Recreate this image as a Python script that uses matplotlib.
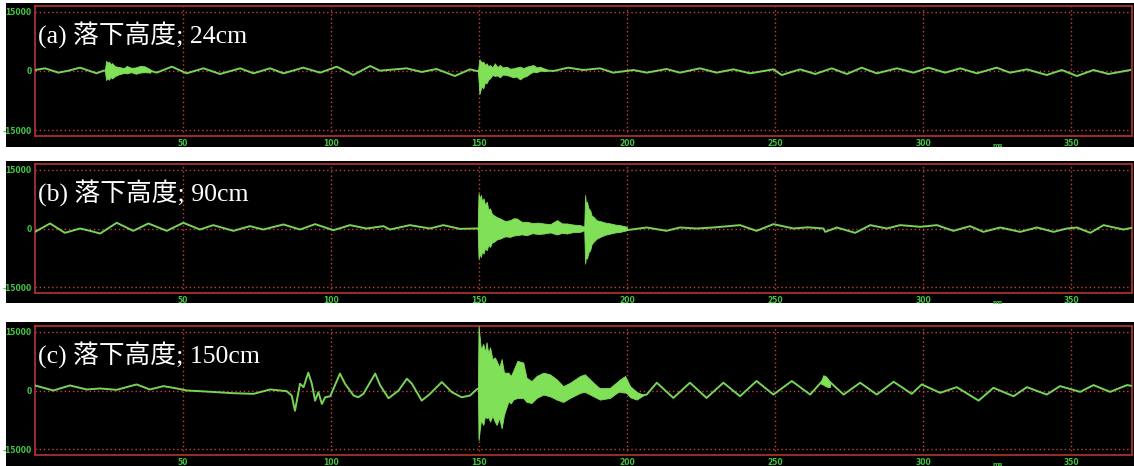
import matplotlib
matplotlib.use("Agg")
import matplotlib.pyplot as plt
from matplotlib.patches import Rectangle

# ---------------- data (time in ms, amplitude) ----------------
labels = ["(a) 落下高度; 24cm", "(b) 落下高度; 90cm", "(c) 落下高度; 150cm"]
x_ticks = [50, 100, 150, 200, 250, 300, 350]
y_ticks = [15000, 0, -15000]
y_ticklabels = ["15000", "0", "-15000"]

# panel (a) baseline trace
a_t = [0.0, 3.4, 7.9, 11.3, 15.2, 20.8, 23.1, 31.0, 36.6, 41.1, 46.2, 51.2, 56.9,
       62.5, 69.3, 73.8, 79.4, 83.9, 90.6, 96.3, 101.9, 107.5, 113.2, 116.5, 125.5,
       130.6, 135.6, 141.8, 146.9, 149.2, 155.0, 162.0, 168.0, 175.1, 180.1, 185.2,
       190.8, 195.3, 202.1, 206.6, 213.3, 217.8, 224.6, 230.2, 235.9, 241.5, 249.4,
       252.2, 258.4, 263.5, 269.1, 274.2, 279.2, 284.3, 291.1, 296.7, 301.8, 307.4,
       312.5, 318.1, 324.8, 329.3, 335.0, 341.7, 346.8, 351.9, 357.5, 362.6, 369.9]
a_v = [250, 680, -420, 80, 850, -590, 80, 300, 600, -420, 1100, -590, 680,
       -760, 680, -590, 680, -590, 850, -420, 1100, -1000, 1270, 80, 680,
       -250, 510, -1270, 420, 0, -200, -300, 400, 0, 850, 250,
       680, -420, 250, -420, 510, -420, 680, -420, 420, -590, 420,
       -1020, 420, -760, 680, -760, 850, -590, 680, -420, 850, -420,
       680, -590, 850, -420, 420, -1020, 250, -1270, 250, -760, 250]
# panel (a) impact bursts (envelope)
a_b1_t = [23.6, 24.0, 24.5, 25.0, 25.5, 26.0, 27.0, 28.5, 30.0, 31.0, 32.5, 34.0, 35.5, 37.0, 39.0]
a_b1_hi = [80, 2600, 2100, 2400, 1700, 2000, 1200, 1000, 700, 1300, 800, 900, 1300, 1200, 400]
a_b1_lo = [80, -2300, -1800, -2200, -1500, -1900, -1300, -800, -500, -600, -300, -700, -400, -300, -400]
a_b2_t = [149.6, 150.1, 150.8, 151.4, 152.0, 152.5, 153.1, 153.7, 154.5, 155.3, 156.2,
          157.0, 158.0, 159.3, 160.4, 161.5, 162.6, 163.8, 165.0, 166.0, 167.2, 168.3,
          169.5, 170.5, 172.8]
a_b2_hi = [0, 2960, 2200, 2370, 1500, 1950, 1200, 1520, 900, 1950, 1000, 1520, 900,
           1100, 600, 680, 900, 1100, 700, 1100, 1300, 1520, 900, 1100, 400]
a_b2_lo = [0, -5840, -3900, -4400, -2800, -3130, -2200, -1860, -1000, -1270, -1100,
           -1610, -900, -1020, -1300, -1610, -1400, -2120, -1500, -1270, -600, -170,
           -300, 80, 0]

# panel (b) baseline trace
b_t = [0.0, 5.1, 10.1, 15.2, 18.6, 22.0, 27.6, 33.2, 38.3, 44.5, 50.1, 55.7, 60.2,
       67.0, 72.6, 77.1, 83.9, 89.5, 94.6, 100.8, 106.4, 112.0, 117.7, 119.9, 126.6,
       133.4, 137.9, 143.5, 148.6, 149.5, 170.0, 185.4, 199.8, 206.6, 213.3, 217.8,
       223.5, 229.1, 238.1, 243.7, 249.4, 256.2, 261.0, 266.3, 266.9, 270.8, 277.0,
       282.1, 287.7, 292.2, 299.0, 304.6, 310.2, 315.8, 320.3, 326.0, 332.7, 338.4,
       344.0, 348.5, 351.9, 356.4, 360.9, 367.6, 371.0]
b_v = [-860, 1290, -1110, 0, -600, -1290, 1460, -600, 1290, -600, 1460, -260, 860,
       -600, 600, -260, 1030, -260, 1110, -430, 860, 0, 600, -260, 860,
       0, 860, -90, 0, 0, 0, 0, -430, 260, -600, 260,
       0, 260, 860, -600, 1110, 0, 300, 0, -860, 260, -1110,
       860, 0, 860, 430, 860, -600, 600, -860, 260, -860, 260,
       -860, 0, 260, -1110, 860, -260, 260]
b_b_t = [149.5, 149.8, 150.2, 150.6, 151.0, 151.5, 152.0, 152.6, 153.1, 153.7, 154.3,
         154.9, 156.0, 157.1, 158.8, 160.5, 161.6, 162.7, 164.4, 166.1, 168.0, 169.9,
         171.8, 174.0, 176.3, 178.0, 179.6, 181.8, 184.1, 185.5, 185.8, 186.1, 186.4,
         187.0, 187.5, 188.0, 188.6, 189.7, 190.9, 192.6, 194.3, 196.0, 197.6, 199.9]
b_b_hi = [0, 9000, 7600, 8570, 6900, 7710, 6000, 6860, 4800, 5140, 3800,
          3430, 2900, 2570, 1900, 2140, 2600, 2570, 1700, 1710, 1400, 1500,
          1290, 1100, 2140, 1300, 1290, 1000, 860, 430, 8570, 6000, 6860,
          5000, 4710, 3300, 3000, 2100, 1890, 1500, 1290, 1000, 860, 430]
b_b_lo = [0, -7710, -6500, -7280, -5800, -6430, -5000, -5570, -4200, -4710, -3600,
          -3430, -2800, -2570, -2000, -2140, -1800, -1710, -1500, -1710, -1200, -1400,
          -1290, -1000, -1540, -1100, -1290, -900, -860, -430, -9000, -7000, -7710,
          -6000, -5570, -4000, -3430, -2600, -2140, -1600, -1290, -1000, -860, -430]

# panel (c) baseline trace
c_t = [0.0, 6.2, 11.8, 17.5, 22.0, 27.6, 34.3, 38.8, 43.4, 47.9, 51.2, 55.7, 67.0,
       73.8, 79.4, 85.0, 86.7, 87.8, 89.5, 90.7, 92.3, 93.5, 94.6, 95.7, 96.9, 98.0,
       99.7, 103.0, 104.7, 107.6, 109.2, 110.9, 114.9, 116.6, 119.4, 122.8, 125.6,
       127.3, 130.6, 133.4, 137.4, 140.8, 144.1, 146.9, 149.4, 160.0, 175.0, 190.0,
       205.5, 206.6, 210.0, 215.6, 221.2, 226.8, 232.5, 238.1, 243.7, 249.4, 255.6,
       261.8, 266.9, 273.1, 278.7, 284.3, 290.0, 296.1, 299.5, 305.7, 311.3, 318.7,
       323.7, 330.5, 335.0, 341.7, 346.2, 353.0, 357.5, 363.1, 368.8, 371.0]
c_v = [1290, 0, 1290, 260, 520, 170, 1550, 260, 1120, 520, 0, -170, -690,
       -860, 260, -170, -1290, -5180, 1730, 860, 4570, 1730, -2590, -430, -3450, -1730,
       -1470, 4320, 1730, -1290, -1730, -860, 4320, 1290, -1990, 0, 3020,
       1730, -2590, -860, 2160, -430, -1730, -1290, 430, 1000, 800, 500,
       -1200, -1040, 1990, -1900, 1990, -1900, 1990, -1470, 2420, -1040, 2420,
       -1040, 3280, -1040, 1990, -1040, 2240, -860, 1550, -600, 860, -2590,
       690, -1470, 860, -1040, 1120, -350, 1380, -350, 1380, 1120]
c_b1_t = [149.6, 149.8, 150.6, 151.4, 152.0, 152.5, 153.1, 153.7, 154.5, 155.3,
          155.9, 156.8, 157.6, 158.4, 159.9, 160.7, 161.5, 162.9, 164.9, 166.0,
          167.7, 169.4, 171.7, 173.9, 176.2, 178.4, 180.7, 184.1, 185.7, 188.6,
          190.8, 194.2, 197.6, 199.3, 201.0, 203.2, 205.5]
c_b1_hi = [430, 16600, 10500, 11910, 9800, 12340, 9500, 11050, 8000, 8460,
           7590, 6000, 8030, 4570, 4570, 3700, 5010, 7590, 7160, 3280,
           2420, 3710, 4570, 4140, 2850, 1120, 1990, 3710, 4140, 1990,
           520, 690, 2850, 3710, 1120, -350, -1200]
c_b1_lo = [430, -12690, -7600, -8800, -6500, -7080, -6800, -7940, -6500, -7940,
           -8800, -7000, -9670, -6210, -2760, -3300, -2330, -1900, -1900, -2930,
           -3190, -1900, -1040, -1470, -2330, -2930, -1900, -600, -350, -1470,
           -2330, -1900, 0, -170, -1730, -2330, -1200]
c_b2_t = [265.5, 266.2, 267.0, 267.8, 268.5]
c_b2_hi = [2300, 3900, 3700, 3000, 1800]
c_b2_lo = [1700, 1500, 1100, 900, 900]

panels = [
    (a_t, a_v, [(a_b1_t, a_b1_hi, a_b1_lo), (a_b2_t, a_b2_hi, a_b2_lo)]),
    (b_t, b_v, [(b_b_t, b_b_hi, b_b_lo)]),
    (c_t, c_v, [(c_b1_t, c_b1_hi, c_b1_lo), (c_b2_t, c_b2_hi, c_b2_lo)]),
]

# ---------------- layout (pixels of a 1134x466 figure) ----------------
W, H = 1134, 466
fig = plt.figure(figsize=(W / 100, H / 100), dpi=100, facecolor="white")

bg_boxes = [(3, 147), (161, 303), (322, 466)]
ax_boxes = [(6, 136), (164, 293), (326, 455)]
ax_left, ax_right = 35, 1132

LINE = "#78d458"
FILL = "#80e058"
RED = "#a8302c"
GRID = "#c8403a"
TICK = "#45c545"

for (top, bot) in bg_boxes:
    fig.patches.append(Rectangle((6 / W, 1 - bot / H), (W - 6) / W, (bot - top) / H,
                                 transform=fig.transFigure, facecolor="black",
                                 edgecolor="none", zorder=-10))

for i, ((t, v, bursts), (top, bot)) in enumerate(zip(panels, ax_boxes)):
    ax = fig.add_axes([ax_left / W, 1 - bot / H, (ax_right - ax_left) / W, (bot - top) / H])
    ax.set_zorder(1)
    ax.set_facecolor("black")
    ax.set_xlim(0, 370.5)
    ax.set_ylim(-16500, 16500)
    for s in ax.spines.values():
        s.set_color(RED)
        s.set_linewidth(1.3)
    for xt in x_ticks:
        ax.axvline(xt, color=GRID, lw=1.0, ls=(0, (1, 2.0)), zorder=1)
    for yt in y_ticks:
        ax.axhline(yt, color=GRID, lw=1.0, ls=(0, (1, 2.0)), zorder=1)
    ax.plot(t, v, color=LINE, lw=1.4, zorder=3, solid_joinstyle="round")
    for bt, bh, bl in bursts:
        ax.fill_between(bt, bl, bh, color=FILL, lw=0.6, edgecolor=FILL, zorder=4)
    ax.set_xticks(x_ticks)
    ax.set_xticklabels([str(x) for x in x_ticks])
    ax.set_yticks(y_ticks)
    ax.set_yticklabels(y_ticklabels)
    ax.tick_params(length=0, colors=TICK, labelsize=5.5, pad=2.5)
    for lab in ax.get_xticklabels() + ax.get_yticklabels():
        lab.set_fontweight("bold")
        lab.set_color(TICK)
    ax.annotate("ms", xy=(325, 0), xycoords=("data", "axes fraction"),
                xytext=(0, -7), textcoords="offset points", ha="center", va="center",
                fontsize=4.5, fontweight="bold", color=TICK, annotation_clip=False)
    ax.text(1.0, 9000, labels[i], color="white", fontsize=18.5, va="center", ha="left",
            family=["Liberation Serif", "Noto Sans CJK JP"], zorder=6)

fig.savefig("out.png", dpi=100, facecolor="white")
